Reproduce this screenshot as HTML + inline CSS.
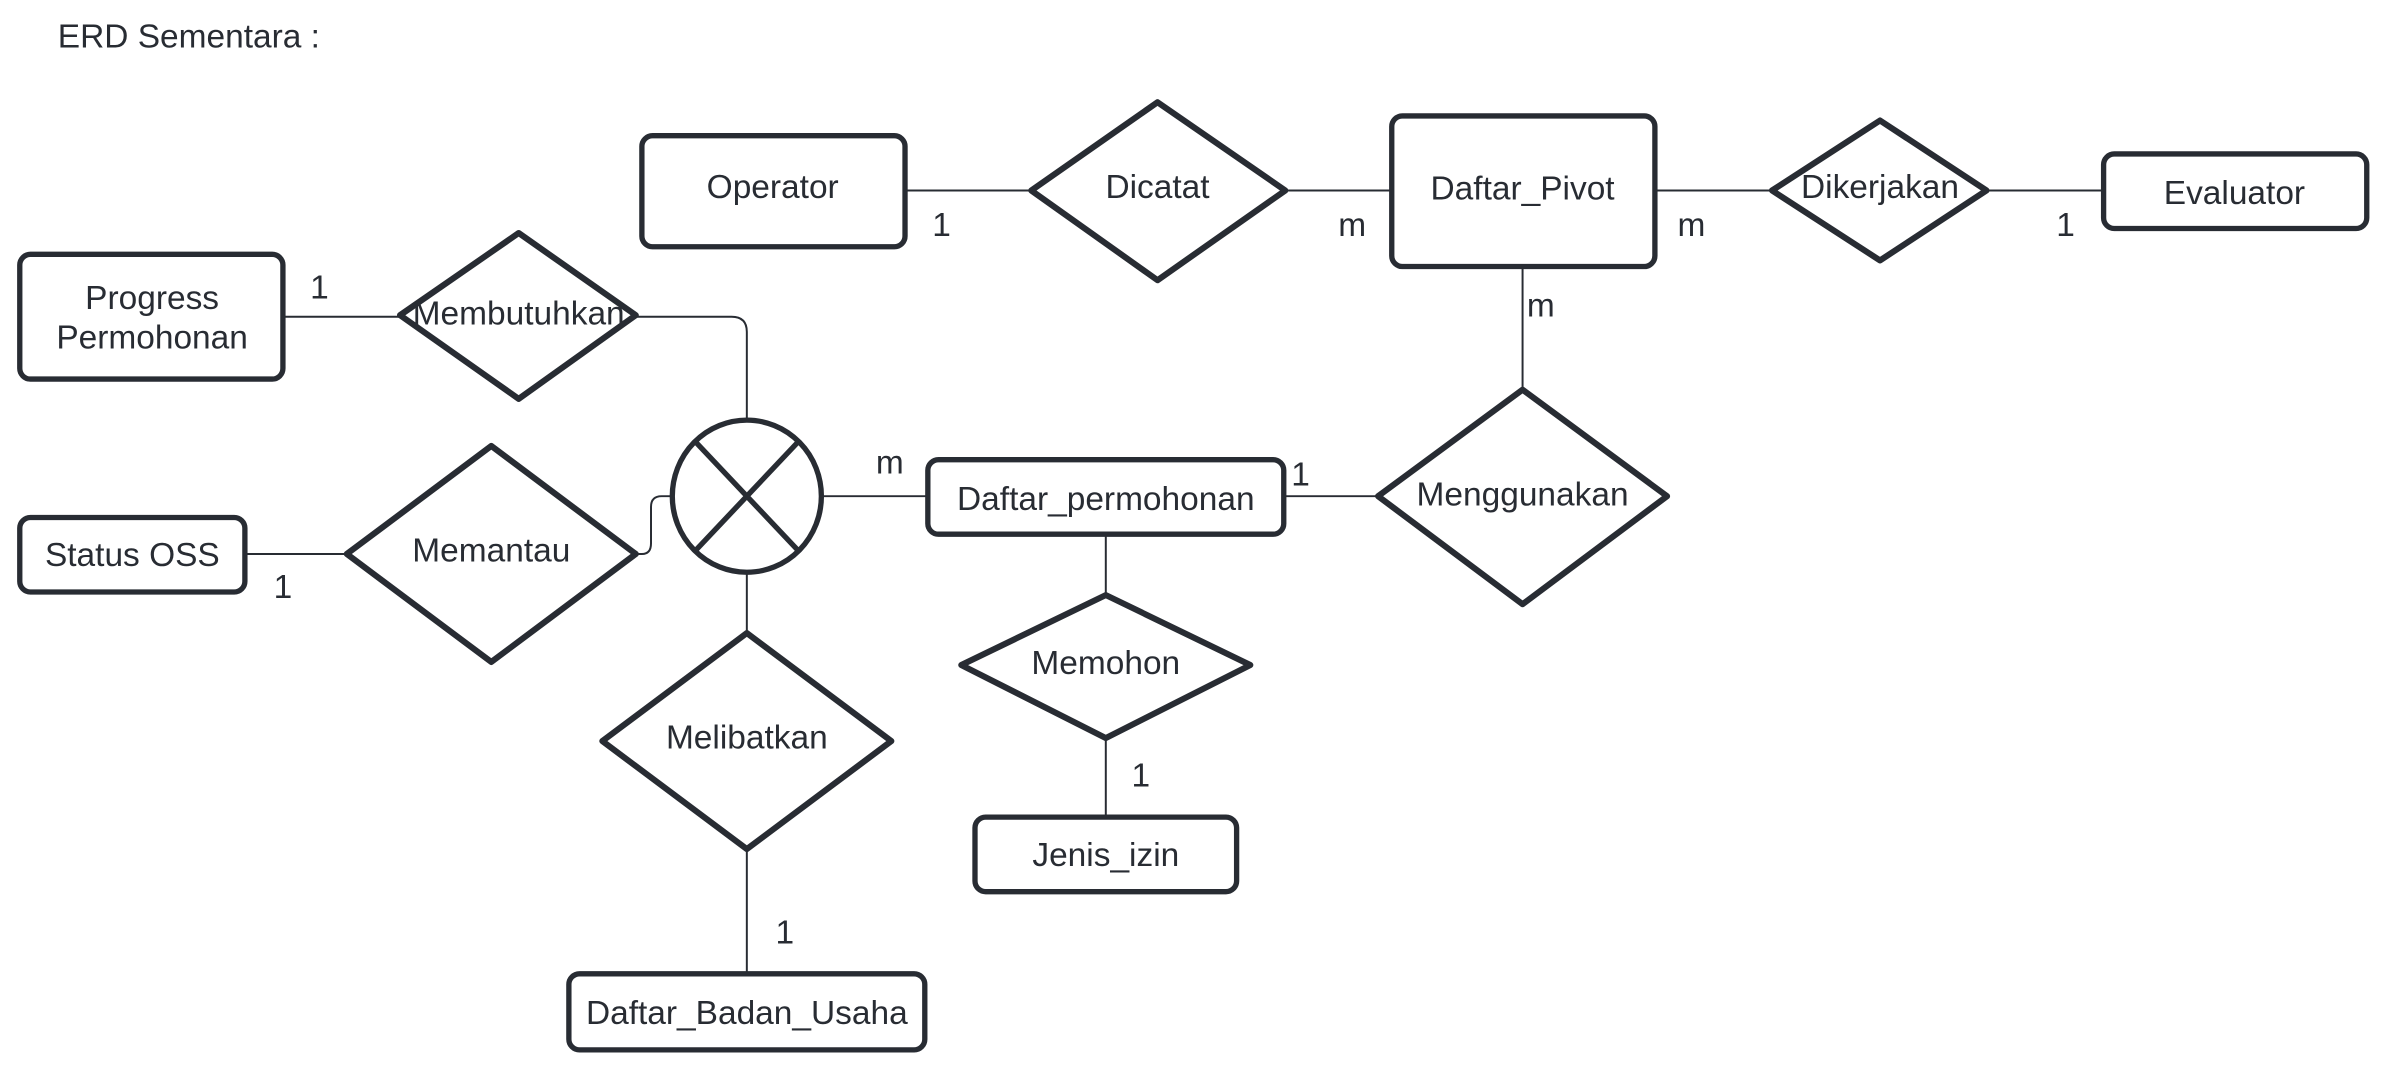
<!DOCTYPE html>
<html><head><meta charset="utf-8"><style>
html,body{margin:0;padding:0;background:#fff;width:2385px;height:1073px;overflow:hidden}
svg{display:block}
text{font-family:"Liberation Sans",sans-serif;fill:#282c33}
</style></head><body>
<svg width="2385" height="1073" viewBox="0 0 1568 705" xmlns="http://www.w3.org/2000/svg">
<g stroke="#282c33" stroke-width="1.3" fill="none">
<line x1="595" y1="125" x2="678" y2="125"/>
<line x1="845" y1="125" x2="915" y2="125"/>
<line x1="1088" y1="125" x2="1165" y2="125"/>
<line x1="1306" y1="125" x2="1383" y2="125"/>
<line x1="1001" y1="175" x2="1001" y2="256"/>
<line x1="844" y1="326" x2="906" y2="326"/>
<line x1="541" y1="326" x2="610" y2="326"/>
<line x1="727" y1="351" x2="727" y2="391"/>
<line x1="727" y1="485" x2="727" y2="537"/>
<line x1="491" y1="376" x2="491" y2="416"/>
<line x1="491" y1="558" x2="491" y2="640"/>
<line x1="186" y1="208" x2="263" y2="208"/>
<line x1="161" y1="364" x2="228" y2="364"/>
<path d="M418 208 L481 208 Q491 208 491 218 L491 276"/>
<path d="M418 364 L422 364 Q428 364 428 357 L428 333 Q428 326 435 326 L441 326"/>
</g>
<g stroke="#282c33" stroke-width="3.5" fill="#fff" stroke-linejoin="round">
<rect x="422" y="89" width="173" height="73" rx="7"/>
<rect x="915" y="76" width="173" height="99" rx="7"/>
<rect x="1383" y="101" width="173" height="49" rx="7"/>
<rect x="13" y="167" width="173" height="82" rx="7"/>
<rect x="13" y="340" width="148" height="49" rx="7"/>
<rect x="610" y="302" width="234" height="49" rx="7"/>
<rect x="641" y="537" width="172" height="49" rx="7"/>
<rect x="374" y="640" width="234" height="50" rx="7"/>
<g stroke-width="4">
<polygon points="761,67 845,125 761,184 678,125"/>
<polygon points="1236,79 1306,125 1236,171 1165,125"/>
<polygon points="341,153 418,207 341,262 263,207"/>
<polygon points="323,293 418,364 323,435 228,364"/>
<polygon points="1001,256 1096,326 1001,397 906,326"/>
<polygon points="727,391 822,437 727,485 632,437"/>
<polygon points="491,416 586,487 491,558 396,487"/>
</g>
<ellipse cx="491" cy="326" rx="49" ry="50"/>
<line x1="457" y1="290" x2="525" y2="362"/>
<line x1="525" y1="290" x2="457" y2="362"/>
</g>
<g font-size="22" text-anchor="middle">
<text x="508" y="130">Operator</text>
<text x="761" y="130">Dicatat</text>
<text x="1001" y="131">Daftar_Pivot</text>
<text x="1236" y="130">Dikerjakan</text>
<text x="1469" y="134">Evaluator</text>
<text x="100" y="203">Progress</text>
<text x="100" y="229">Permohonan</text>
<text x="341" y="213">Membutuhkan</text>
<text x="87" y="372">Status OSS</text>
<text x="323" y="369">Memantau</text>
<text x="727" y="335">Daftar_permohonan</text>
<text x="1001" y="332">Menggunakan</text>
<text x="727" y="443">Memohon</text>
<text x="491" y="492">Melibatkan</text>
<text x="727" y="569">Jenis_izin</text>
<text x="491" y="673">Daftar_Badan_Usaha</text>
<text x="619" y="155">1</text>
<text x="889" y="155">m</text>
<text x="1112" y="155">m</text>
<text x="1358" y="155">1</text>
<text x="1013" y="208">m</text>
<text x="210" y="196">1</text>
<text x="186" y="393">1</text>
<text x="585" y="311">m</text>
<text x="855" y="319">1</text>
<text x="750" y="517">1</text>
<text x="516" y="620">1</text>
</g>
<text x="38" y="31" font-size="22">ERD Sementara :</text>
</svg>
</body></html>
